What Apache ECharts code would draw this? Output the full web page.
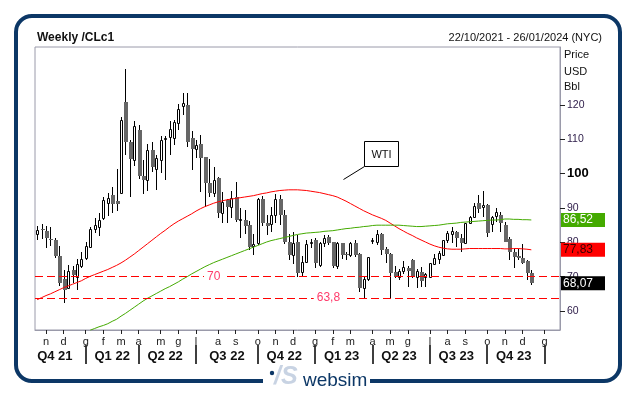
<!DOCTYPE html>
<html><head><meta charset="utf-8">
<script src="https://cdn.jsdelivr.net/npm/echarts@6/dist/echarts.min.js"></script>
<style>html,body{margin:0;padding:0;background:#fff;}#c{width:633px;height:394px;}</style>
</head><body><div id="c"></div>
<script>
// ---------- data ----------
const startDate = [2021, 9, 22];   // first weekly bar (Friday 22/10/2021)
const weekCount = 119;             // axis runs to 26/01/2024
const monthLetters = ['g','f','m','a','m','g','l','a','s','o','n','d'];

const opens = [82.4,83.8,83.4,81.1,80.6,76.0,69.3,66.8,72.0,70.0,73.2,75.3,78.7,83.9,84.6,87.2,91.6,93.8,91.9,94.5,
121.0,109.3,104.0,112.7,99.3,98.3,106.9,101.5,104.0,110.2,110.8,110.3,114.7,119.8,120.0,110.3,107.1,108.6,104.8,97.4,
94.5,98.6,88.5,92.3,90.2,93.3,86.5,86.4,85.0,79.0,79.8,92.5,85.7,85.4,88.0,92.5,88.0,80.1,76.3,80.2,
71.5,74.4,79.9,80.7,73.4,79.9,81.6,80.2,73.1,79.9,76.5,76.3,79.9,76.6,66.6,69.3,80.3,80.2,82.4,78.0,
76.6,71.3,70.0,71.7,72.6,75.0,70.0,71.3,70.0,70.0,73.7,75.1,76.3,80.7,82.4,83.1,81.2,79.9,85.7,87.3,
91.4,90.4,90.9,85.3,87.7,88.0,85.0,80.9,77.3,76.1,75.3,74.6,71.0];
const highs = [84.9,85.4,84.9,84.6,81.2,79.0,71.9,73.3,73.1,75.1,77.3,80.2,84.6,87.0,88.5,93.1,94.5,96.0,101.5,116.6,
130.5,109.8,115.4,114.3,104.0,108.6,109.3,105.5,111.0,111.0,115.3,115.6,120.2,123.4,123.4,112.5,109.8,111.3,105.0,104.3,
101.9,98.9,94.8,92.6,95.0,97.6,90.0,89.3,86.2,82.3,93.0,93.6,88.0,90.4,94.0,93.7,89.5,82.3,83.1,82.1,
76.0,80.7,81.0,81.3,80.0,82.1,82.1,80.2,80.0,79.9,77.2,80.2,80.7,76.8,70.3,75.7,81.2,83.6,82.6,78.7,
76.8,73.0,72.3,74.7,73.2,75.1,72.2,72.7,71.2,74.0,76.5,77.5,80.7,83.4,84.4,83.3,82.4,85.7,87.7,91.4,
93.8,95.0,91.2,87.8,90.0,88.7,85.8,81.5,78.0,78.0,79.4,74.9,72.0];
const lows = [80.7,81.0,78.3,79.0,75.3,67.4,62.3,66.3,68.3,66.0,72.5,74.9,78.5,82.6,81.8,86.6,87.6,88.6,89.0,94.3,
105.5,93.3,102.2,98.4,94.0,95.0,100.5,95.3,100.1,98.2,105.4,108.4,112.7,117.0,107.9,101.1,104.5,94.8,90.4,93.3,
93.3,87.0,85.7,85.5,87.0,85.8,81.2,82.3,77.8,76.3,79.3,84.8,82.1,83.0,85.6,85.0,79.6,75.0,73.6,70.0,
70.0,73.9,78.4,72.6,72.7,78.5,79.2,72.5,72.3,75.1,75.0,75.8,75.7,65.5,63.8,68.8,79.4,79.2,76.3,73.9,
63.8,69.5,69.0,70.7,67.1,69.5,66.6,67.1,66.9,69.8,73.4,73.6,76.1,79.7,79.7,78.7,77.3,79.7,85.5,87.0,
88.5,87.5,81.5,83.0,85.8,83.0,80.1,75.0,72.4,74.9,73.7,69.0,67.6];
const closes = [83.6,83.5,81.2,80.6,76.1,68.2,66.2,71.6,70.6,73.7,75.2,78.9,83.8,85.1,86.5,92.3,92.9,91.1,91.3,115.6,
109.3,104.4,113.9,99.2,98.3,106.9,101.9,104.6,109.8,110.5,113.0,115.1,118.7,120.5,109.3,107.1,108.4,104.5,97.4,94.5,
98.3,88.6,91.8,90.4,93.0,86.6,86.8,84.8,78.5,79.4,92.6,85.6,84.9,87.9,92.6,88.0,80.1,76.3,79.9,71.0,
74.2,79.5,80.1,73.9,79.7,81.2,79.7,73.1,79.7,76.3,76.4,79.7,76.3,66.6,69.3,75.6,80.6,82.4,77.8,76.6,
71.2,70.0,71.7,72.7,71.8,70.0,71.7,68.8,70.8,73.9,75.3,77.0,80.7,82.6,83.3,81.2,79.7,85.7,87.5,90.6,
89.7,90.8,82.6,87.5,88.7,85.5,80.2,77.3,75.8,75.5,73.9,71.2,68.07];

const maRed = [63.3,63.9,64.5,65.0,65.6,66.2,66.8,67.3,67.8,68.3,68.8,69.5,70.1,70.6,71.1,71.6,72.1,72.7,73.3,74.0,
74.8,75.7,76.6,77.6,78.6,79.6,80.6,81.6,82.6,83.5,84.5,85.4,86.2,86.9,87.6,88.3,89.1,89.8,90.4,90.9,
91.4,91.8,92.1,92.4,92.6,92.8,93.0,93.2,93.4,93.6,93.9,94.2,94.4,94.7,94.9,95.1,95.2,95.3,95.3,95.3,
95.2,95.1,94.9,94.7,94.5,94.2,93.9,93.6,93.2,92.6,92.0,91.3,90.6,89.9,89.2,88.6,88.0,87.5,87.0,86.4,
85.6,84.8,84.0,83.3,82.6,82.0,81.3,80.7,80.1,79.5,79.0,78.6,78.3,78.1,78.0,78.0,78.0,78.1,78.2,78.2,
78.2,78.2,78.2,78.2,78.2,78.2,78.1,78.1,78.2,78.2,78.1,78.0,77.83];
const maGreen = [null,null,null,null,null,null,null,null,null,null,null,null,54.4,54.9,55.4,55.8,56.3,57.0,57.6,58.5,
59.3,60.2,61.1,62.0,62.9,63.7,64.4,65.1,65.8,66.5,67.1,67.8,68.5,69.3,70.0,70.8,71.5,72.2,72.9,73.5,
74.1,74.6,75.1,75.6,76.1,76.6,77.1,77.6,78.1,78.6,79.1,79.6,80.1,80.5,80.8,81.1,81.4,81.7,82.0,82.3,
82.5,82.7,82.8,82.9,83.0,83.2,83.3,83.4,83.6,83.8,84.0,84.1,84.3,84.4,84.6,84.7,84.9,85.0,85.0,85.0,
85.0,85.0,85.0,84.9,84.8,84.7,84.6,84.6,84.7,84.8,84.9,85.0,85.2,85.4,85.5,85.6,85.8,85.9,86.0,86.1,
86.2,86.3,86.4,86.5,86.5,86.6,86.8,86.8,86.7,86.7,86.6,86.6,86.52];

const yTicks = [60,70,80,90,100,110,120];
const levelValues = [70, 63.8];
const levelLabels = ['70', '63,8'];
const levelLabelAt = [40, 66];

// ---------- derived ----------
const DAY = 86400000;
const t0 = Date.UTC(startDate[0], startDate[1], startDate[2]);
const dates = [];
for (let i = 0; i < weekCount; i++) dates.push(new Date(t0 + i * 7 * DAY).toISOString().slice(0, 10));
const monthOf = i => new Date(t0 + i * 7 * DAY).getUTCMonth();
const monthStart = new Set(), quarterStart = new Set(), qList = [];
for (let i = 1; i < weekCount; i++) {
  if (monthOf(i) !== monthOf(i - 1)) {
    monthStart.add(i);
    if (monthOf(i) % 3 === 0) { quarterStart.add(i); qList.push(i); }
  }
}
(function () {
  const d0 = new Date(t0);
  let qd = Date.UTC(d0.getUTCFullYear(), Math.floor(d0.getUTCMonth() / 3) * 3, 1);
  while (new Date(qd).getUTCDay() !== 5) qd += DAY;
  qList.unshift(Math.round((qd - t0) / (7 * DAY)));
})();
const quarterLabel = new Set();
for (let k = 0; k < qList.length - 1; k++) quarterLabel.add(Math.floor((qList[k] + qList[k + 1]) / 2));

const candleData = opens.map((o, i) => [i, o, closes[i], lows[i], highs[i]]);
const last = closes.length - 1;
const fmt = v => v.toFixed(2).replace('.', ',');
const FONT = '"Liberation Sans", Arial, sans-serif';

function renderCandle(params, api) {
  const idx = api.value(0), o = api.value(1), c = api.value(2), l = api.value(3), h = api.value(4);
  const pO = api.coord([idx, o]), pC = api.coord([idx, c]);
  const pH = api.coord([idx, h]), pL = api.coord([idx, l]);
  const cx = Math.round(pO[0]) + 0.5;
  const yTop = Math.round(Math.min(pO[1], pC[1]));
  const yBot = Math.round(Math.max(pO[1], pC[1]));
  const children = [{
    type: 'line', shape: { x1: cx, y1: Math.round(pH[1]), x2: cx, y2: Math.round(pL[1]) },
    style: { stroke: '#000', lineWidth: 1 }
  }];
  if (c >= o) {
    children.push({ type: 'rect', shape: { x: cx - 1, y: yTop + 0.5, width: 2, height: Math.max(yBot - yTop, 0) },
      style: { fill: '#fff', stroke: '#000', lineWidth: 1 } });
  } else {
    children.push({ type: 'rect', shape: { x: cx - 1.5, y: yTop, width: 4, height: Math.max(yBot - yTop, 1) },
      style: { fill: '#666666' } });
  }
  return { type: 'group', children };
}

const dashStyle = { color: '#ff0000', type: [8, 4], width: 1 };
const hiddenLine = { color: 'rgba(255,255,255,0)', width: 0.01, type: 'solid' };
const boxLabel = (v, bg, fg) => ({
  show: true, position: 'end', distance: 1, formatter: fmt(v), backgroundColor: bg, color: fg,
  fontSize: 12, fontFamily: FONT, padding: [1, 2, 1, 2], width: 40, align: 'left', lineHeight: 12
});

const chart = echarts.init(document.getElementById('c'), null, { renderer: 'canvas' });
chart.setOption({
  animation: false,
  backgroundColor: '#fff',
  textStyle: { fontFamily: FONT },
  grid: { left: 35, right: 73, top: 47, bottom: 64, show: true, borderColor: '#9a9aaa', borderWidth: 1,
    backgroundColor: '#fff', containLabel: false, outerBoundsMode: 'none' },
  xAxis: [{
    type: 'category', data: dates, position: 'bottom', boundaryGap: true,
    axisLine: { show: true, lineStyle: { color: '#9a9aaa' } },
    axisTick: { show: true, alignWithLabel: true, interval: i => monthStart.has(i), length: 4, lineStyle: { color: '#222' } },
    axisLabel: { interval: i => monthStart.has(i), formatter: v => monthLetters[new Date(v).getUTCMonth()],
      margin: 6, fontSize: 11, color: '#222', fontFamily: FONT },
    splitLine: { show: false }
  }, {
    type: 'category', data: dates, position: 'bottom', offset: 15, boundaryGap: true,
    axisLine: { show: false },
    axisTick: { show: true, alignWithLabel: true, interval: i => quarterStart.has(i), length: 19, lineStyle: { color: '#000', width: 1.5 } },
    axisLabel: { interval: i => quarterLabel.has(i),
      formatter: v => { const d = new Date(v); return 'Q' + (Math.floor(d.getUTCMonth() / 3) + 1) + ' ' + String(d.getUTCFullYear() % 100).padStart(2, '0'); },
      margin: 5, fontSize: 13, fontWeight: 'bold', color: '#111', fontFamily: FONT },
    splitLine: { show: false }
  }],
  yAxis: {
    type: 'value', position: 'right', min: 54.47, max: 136.9,
    axisLine: { show: true, lineStyle: { color: '#9a9aaa' } },
    axisTick: { show: true, length: 5, customValues: yTicks, lineStyle: { color: '#222' } },
    axisLabel: { customValues: yTicks, margin: 7, fontSize: 10.5, color: '#2b1a47', fontFamily: FONT,
      formatter: v => v === 100 ? '{b|100}' : String(v),
      rich: { b: { fontWeight: 'bold', fontSize: 13, color: '#000', fontFamily: FONT } } },
    splitLine: { show: false }
  },
  series: [{
    type: 'custom', name: 'WTI', renderItem: renderCandle, data: candleData,
    encode: { x: 0, y: [1, 2, 3, 4] }, z: 2
  }, {
    type: 'line', name: 'MA red', data: maRed, showSymbol: false, symbol: 'none', z: 3,
    lineStyle: { color: '#ff0000', width: 1 }, itemStyle: { color: '#ff0000' },
    markLine: {
      silent: true, symbol: ['none', 'none'], animation: false,
      data: [
        { yAxis: levelValues[0], lineStyle: dashStyle, label: { show: false } },
        { yAxis: levelValues[1], lineStyle: dashStyle, label: { show: false } }
      ]
    },
    markPoint: {
      silent: true, symbol: 'circle', symbolSize: 1, itemStyle: { color: 'rgba(0,0,0,0)' },
      label: { show: true, position: 'inside', color: '#ff3b6b', fontSize: 12, fontFamily: FONT,
        backgroundColor: '#fff', padding: [0, 3] },
      data: levelValues.map((v, k) => ({ coord: [dates[levelLabelAt[k]], v], label: { formatter: levelLabels[k] } }))
    }
  }, {
    type: 'line', name: 'MA green', data: maGreen, showSymbol: false, symbol: 'none', z: 3,
    lineStyle: { color: '#44aa00', width: 1 }, itemStyle: { color: '#44aa00' }
  }, {
    type: 'line', name: 'last values', data: [], z: 10, silent: true,
    markLine: {
      silent: true, symbol: ['none', 'none'], animation: false, lineStyle: hiddenLine,
      data: [
        { yAxis: maGreen[last], lineStyle: hiddenLine, label: boxLabel(maGreen[last], '#44aa00', '#ffffff') },
        { yAxis: maRed[last], lineStyle: hiddenLine, label: boxLabel(maRed[last], '#ff0000', '#3a0000') },
        { yAxis: closes[last], lineStyle: hiddenLine, label: boxLabel(closes[last], '#000000', '#ffffff') }
      ]
    }
  }],
  graphic: [
    { type: 'rect', z: 50, shape: { x: 16, y: 16, width: 604, height: 365, r: 16 },
      style: { fill: 'none', stroke: '#0c3766', lineWidth: 4 } },
    { type: 'rect', z: 51, shape: { x: 263, y: 375, width: 107, height: 14 }, style: { fill: '#fff' } },
    { type: 'circle', z: 52, shape: { cx: 272, cy: 373, r: 2.2 }, style: { fill: '#0c3766' } },
    { type: 'text', z: 52, style: { text: '/S', x: 274, y: 390, font: 'italic bold 25px ' + FONT, fill: '#c8d3e3',
      align: 'left', verticalAlign: 'bottom', textAlign: 'left', textVerticalAlign: 'bottom' } },
    { type: 'text', z: 52, style: { text: 'websim', x: 303, y: 390, font: '19px ' + FONT, fill: '#0c3766',
      align: 'left', verticalAlign: 'bottom', textAlign: 'left', textVerticalAlign: 'bottom' } },
    { type: 'text', z: 52, style: { text: 'Weekly /CLc1', x: 37, y: 38, font: 'bold 12px ' + FONT, fill: '#111',
      align: 'left', verticalAlign: 'middle', textAlign: 'left', textVerticalAlign: 'middle' } },
    { type: 'text', z: 52, style: { text: '22/10/2021 - 26/01/2024 (NYC)', x: 602, y: 38, font: '11px ' + FONT, fill: '#111',
      align: 'right', verticalAlign: 'middle', textAlign: 'right', textVerticalAlign: 'middle' } },
    { type: 'text', z: 52, style: { text: 'Price', x: 564, y: 55, font: '11px ' + FONT, fill: '#111',
      align: 'left', verticalAlign: 'middle', textAlign: 'left', textVerticalAlign: 'middle' } },
    { type: 'text', z: 52, style: { text: 'USD', x: 564, y: 72, font: '11px ' + FONT, fill: '#111',
      align: 'left', verticalAlign: 'middle', textAlign: 'left', textVerticalAlign: 'middle' } },
    { type: 'text', z: 52, style: { text: 'Bbl', x: 564, y: 87, font: '11px ' + FONT, fill: '#111',
      align: 'left', verticalAlign: 'middle', textAlign: 'left', textVerticalAlign: 'middle' } },
    { type: 'rect', z: 52, shape: { x: 364.5, y: 141.5, width: 34, height: 25 },
      style: { fill: '#fff', stroke: '#000', lineWidth: 1 } },
    { type: 'text', z: 53, style: { text: 'WTI', x: 381.5, y: 154.5, font: '11px ' + FONT, fill: '#111',
      align: 'center', verticalAlign: 'middle', textAlign: 'center', textVerticalAlign: 'middle' } },
    { type: 'line', z: 52, shape: { x1: 364.5, y1: 166.5, x2: 343.5, y2: 179.5 }, style: { stroke: '#000', lineWidth: 1 } }
  ]
});
</script>
</body></html>
